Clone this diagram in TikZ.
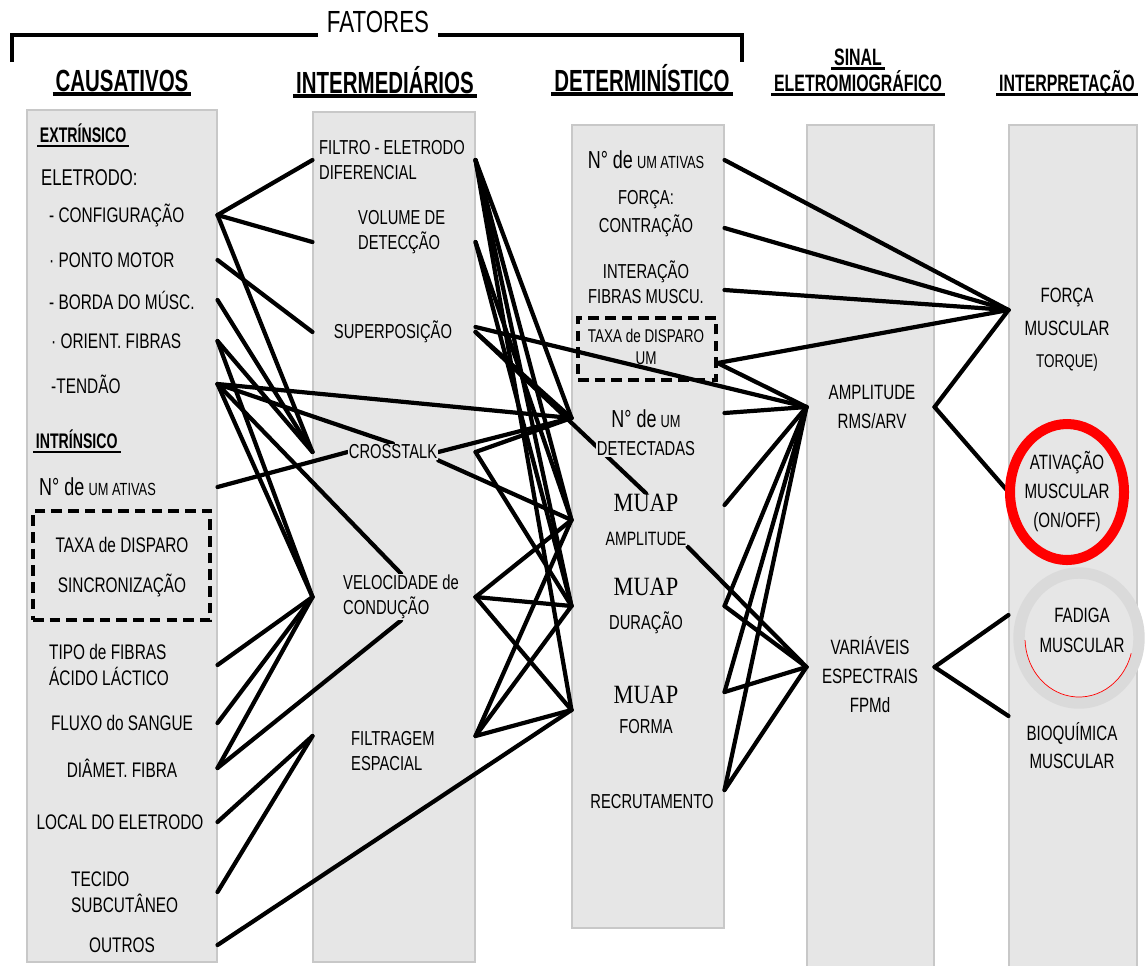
\documentclass[tikz,border=0pt]{standalone}
\usepackage{fontspec}
\setmainfont{Liberation Sans}[FakeStretch=0.73]
\newfontfamily\headfont{Liberation Sans}[FakeStretch=0.67]
\newfontfamily\muapfont{Liberation Serif}[FakeStretch=0.85]
\usetikzlibrary{calc,fit}
\definecolor{boxgray}{HTML}{E6E6E6}
\definecolor{boxedge}{HTML}{C8C8C8}
\definecolor{ringgray}{HTML}{DADADA}
\definecolor{markred}{HTML}{FF0000}
\pgfdeclarelayer{boxes}
\pgfdeclarelayer{links}
\pgfsetlayers{boxes,links,main}
% "N° de" in large type, the rest small
\newcommand{\nde}[1]{{\fontsize{14}{16}\selectfont N° de} {\fontsize{10}{12}\selectfont #1}}
\newcommand{\muap}{{\muapfont\fontsize{15}{17}\selectfont MUAP}}

\begin{document}
\begin{tikzpicture}[x=0.02cm,y=-0.02cm,
  colbox/.style={draw=boxedge,fill=boxgray,line width=0.6pt,inner sep=0pt},
  itemtxt/.style={fill=boxgray,inner sep=0.5pt,align=center,font=\fontsize{12}{15}\selectfont},
  midtxt/.style={itemtxt,font=\fontsize{11.5}{14.5}\selectfont},
  smalltxt/.style={itemtxt,font=\fontsize{11.8}{16}\selectfont},
  headtxt/.style={inner sep=1.5pt,text height=0.72*#1pt,text depth=0pt,
    font=\headfont\bfseries\fontsize{#1}{#1}\selectfont,
    append after command={(\tikzlastnode.south west) edge[line width=#1*0.1pt] (\tikzlastnode.south east)}},
  headtxt/.default=17.4,
  dashbox/.style={draw,line width=1.8pt,dash pattern=on 6pt off 3.5pt,inner sep=0pt},
  link/.style={line width=2.4pt,line cap=round,line join=round}]
\useasboundingbox (0,0) rectangle (1145,965);

% the five column panels
\begin{pgfonlayer}{boxes}
\fill[white] (0,0) rectangle (1145,965);
\node[colbox,fit={(27,110) (217,962)}] (colcaus) {};
\node[colbox,fit={(313,112) (475,962)}] (colinter) {};
\node[colbox,fit={(572,125) (724,928)}] (coldet) {};
\node[colbox,fit={(807,125) (934,968)}] (colsinal) {};
\node[colbox,fit={(1009,125) (1137,968)}] (colinterp) {};
\end{pgfonlayer}

% title bracket
\node[font=\fontsize{17.4}{20}\selectfont,inner xsep=5pt,inner ysep=1pt] (fatores) at (378,22) {FATORES};
\draw[line width=1.8pt] (12,62) |- (fatores.south west);
\draw[line width=1.8pt] (fatores.south east) -| (742,62);

% column headings
\node[headtxt] (hcaus) at (122,80) {CAUSATIVOS};
\node[headtxt] (hinter) at (385,82) {INTERMEDIÁRIOS};
\node[headtxt] (hdet) at (642,80) {DETERMINÍSTICO};
\node[headtxt=13.5] (hsinal) at (858,57) {SINAL};
\node[headtxt=13.5] (helet) at (858,83) {ELETROMIOGRÁFICO};
\node[headtxt=13.5] (hinterp) at (1067,83) {INTERPRETAÇÃO};

% causativos
\node[headtxt=12,anchor=west] (extr) at (37,135) {EXTRÍNSICO};
\node[itemtxt,anchor=west,font=\fontsize{13}{15}\selectfont] (eletr) at (40,178) {ELETRODO:};
\node[itemtxt,anchor=west] (cfg) at (48,215) {- CONFIGURAÇÃO};
\node[itemtxt,anchor=west] (pmot) at (48,260) {· PONTO MOTOR};
\node[itemtxt,anchor=west] (borda) at (48,300) {- BORDA DO MÚSC.};
\node[itemtxt,anchor=west] (orient) at (50,341) {· ORIENT. FIBRAS};
\node[itemtxt,anchor=west] (tendao) at (50,384) {-TENDÃO};
\node[headtxt=12,anchor=west] (intr) at (33,441) {INTRÍNSICO};
\node[itemtxt,anchor=west] (nativ) at (38,487) {\nde{UM ATIVAS}};
\node[itemtxt] (taxa1) at (122,545) {TAXA de DISPARO};
\node[itemtxt] (sincr) at (122,585) {SINCRONIZAÇÃO};
\node[dashbox,fit={(33,511) (210,620)}] (dashcaus) {};
\node[itemtxt,anchor=west,align=left] (tipo) at (48,665) {TIPO de FIBRAS\\ÁCIDO LÁCTICO};
\node[itemtxt] (fluxo) at (122,723) {FLUXO do SANGUE};
\node[itemtxt] (diam) at (122,768) {DIÂMET. FIBRA};
\node[itemtxt] (local) at (120,822) {LOCAL DO ELETRODO};
\node[itemtxt,anchor=west,align=left] (tecido) at (70,892) {TECIDO\\SUBCUTÂNEO};
\node[itemtxt] (outros) at (122,945) {OUTROS};

% intermediarios
\node[midtxt,anchor=west,align=left] (filtro) at (318,160) {FILTRO - ELETRODO\\DIFERENCIAL};
\node[midtxt,anchor=west,align=left] (volume) at (357,232) {VOLUME DE\\DETECÇÃO};
\node[midtxt] (superp) at (393,332) {SUPERPOSIÇÃO};
\node[midtxt] (xtalk) at (393,452) {CROSSTALK};
\node[midtxt,anchor=west,align=left] (veloc) at (342,597) {VELOCIDADE de\\CONDUÇÃO};
\node[midtxt,anchor=west,align=left] (filtrag) at (350,751) {FILTRAGEM\\ESPACIAL};

% deterministico
\node[midtxt] (nativ3) at (646,160) {\nde{UM ATIVAS}};
\node[midtxt,font=\fontsize{11.5}{16}\selectfont] (forca3) at (646,214) {FORÇA:\\CONTRAÇÃO};
\node[midtxt] (inter3) at (646,282) {INTERAÇÃO\\FIBRAS MUSCU.};
\node[midtxt,font=\fontsize{10.5}{12.5}\selectfont,inner sep=0pt,fill=none] (taxa3) at (646,347) {TAXA de DISPARO\\UM};
\node[dashbox,fit={(578,318) (716,380)}] (dashdet) {};
\node[midtxt,font=\fontsize{11.5}{16}\selectfont] (detec3) at (646,433) {\nde{UM}\\DETECTADAS};
\node[midtxt,font=\fontsize{11}{19}\selectfont] (muapa) at (646,520) {\muap\\AMPLITUDE};
\node[midtxt,font=\fontsize{11.5}{19}\selectfont] (muapd) at (646,606) {\muap\\DURAÇÃO};
\node[midtxt,font=\fontsize{11.5}{17}\selectfont] (muapf) at (646,710) {\muap\\FORMA};
\node[midtxt] (recrut) at (652,802) {RECRUTAMENTO};

% sinal eletromiografico
\node[smalltxt] (ampl) at (872,407) {AMPLITUDE\\RMS/ARV};
\node[smalltxt,font=\fontsize{11.8}{16.5}\selectfont] (varesp) at (870,675) {VARIÁVEIS\\ESPECTRAIS\\FPMd};

% interpretacao
\node[smalltxt,font=\fontsize{11.8}{18.5}\selectfont] (forcam) at (1067,330) {FORÇA\\MUSCULAR\\{\fontsize{10.5}{12}\selectfont TORQUE)}};
\node[smalltxt,font=\fontsize{11.8}{16.5}\selectfont] (ativ) at (1067,492) {ATIVAÇÃO\\MUSCULAR\\(ON/OFF)};
\node[smalltxt,font=\fontsize{11.8}{17}\selectfont] (fadiga) at (1082,630) {FADIGA\\MUSCULAR};
\node[smalltxt,font=\fontsize{11.8}{16}\selectfont] (bioq) at (1072,746) {BIOQUÍMICA\\MUSCULAR};

% highlight rings
\draw[markred,line width=5.7pt] (ativ) ellipse [x radius=57, y radius=68];
\draw[ringgray,line width=6.5pt] (1079,638) ellipse [x radius=60, y radius=65];
\draw[markred,line width=0.4pt] (1079,638) ++(15:54 and 59) arc [start angle=15, end angle=178, x radius=54, y radius=59];

% ports that sit off the text centres
\coordinate (volumeL) at ($(volume -| colinter.west)+(0,10)$);
\coordinate (volumeR) at ($(volume -| colinter.east)+(0,10)$);
\coordinate (superpR) at ($(superp -| colinter.east)+(0,-5)$);
\coordinate (filtragL) at ($(filtrag -| colinter.west)+(0,-15)$);
\coordinate (filtragR) at ($(filtrag -| colinter.east)+(0,-15)$);
\coordinate (detecL) at ($(detec3 -| coldet.west)+(0,-15)$);
\coordinate (detecR) at ($(detec3 -| coldet.east)+(0,-20)$);
\coordinate (forca3R) at ($(forca3 -| coldet.east)+(0,14)$);
\coordinate (inter3R) at ($(inter3 -| coldet.east)+(0,8)$);
\coordinate (taxa3R) at ($(taxa3 -| dashdet.east)+(0,16)$);
\coordinate (muapaR) at ($(muapa -| coldet.east)+(0,-15)$);
\coordinate (muapfR) at ($(muapf -| coldet.east)+(0,-18)$);
\coordinate (recrutR) at ($(recrut -| coldet.east)+(0,-12)$);
\coordinate (varespL) at ($(varesp -| colsinal.west)+(0,-8)$);
\coordinate (varespR) at ($(varesp -| colsinal.east)+(0,-8)$);
\coordinate (forcamL) at ($(forcam -| colinterp.west)+(0,-20)$);
\coordinate (fadigaL) at ($(fadiga -| colinterp.west)+(0,-15)$);
\coordinate (bioqL) at ($(bioq -| colinterp.west)+(0,-30)$);

\begin{pgfonlayer}{links}
% causativos -> intermediarios
\draw[link] (cfg -| colcaus.east) -- (filtro -| colinter.west);
\draw[link] (cfg -| colcaus.east) -- (volumeL);
\draw[link] (cfg -| colcaus.east) -- (xtalk -| colinter.west);
\draw[link] (pmot -| colcaus.east) -- (superp -| colinter.west);
\draw[link] (borda -| colcaus.east) -- (xtalk -| colinter.west);
\draw[link] (orient -| colcaus.east) -- (xtalk -| colinter.west);
\draw[link] (orient -| colcaus.east) -- (veloc -| colinter.west);
\draw[link] (tendao -| colcaus.east) -- (detecL);
\draw[link] (tendao -| colcaus.east) -- (xtalk.north);
\draw[link] (tendao -| colcaus.east) -- (veloc.north);
\draw[link] (tendao -| colcaus.east) -- (veloc -| colinter.west);
\draw[link] (nativ -| colcaus.east) -- (xtalk.west);
\draw[link] (tipo -| colcaus.east) -- (veloc -| colinter.west);
\draw[link] (fluxo -| colcaus.east) -- (veloc -| colinter.west);
\draw[link] (diam -| colcaus.east) -- (veloc -| colinter.west);
\draw[link] (diam -| colcaus.east) -- (veloc.south);
\draw[link] (local -| colcaus.east) -- (filtragL);
\draw[link] (tecido -| colcaus.east) -- (filtragL);
\draw[link] (outros -| colcaus.east) -- (muapf -| coldet.west);
% intermediarios -> deterministico
\draw[link] (filtro -| colinter.east) -- (detecL);
\draw[link] (filtro -| colinter.east) -- (muapa -| coldet.west);
\draw[link] (filtro -| colinter.east) -- (muapd -| coldet.west);
\draw[link] (filtro -| colinter.east) -- (muapf -| coldet.west);
\draw[link] (volumeR) -- (muapa -| coldet.west);
\draw[link] (volumeR) -- (muapd -| coldet.west);
\draw[link] (superp -| colinter.east) -- (detecL);
\draw[link] (superp -| colinter.east) -- (muapa.north);
\draw[link] (superpR) -- (ampl -| colsinal.west);
\draw[link] (xtalk.east) -- (detecL);
\draw[link] (xtalk -| colinter.east) -- (detecL);
\draw[link] (xtalk -| colinter.east) -- (muapd -| coldet.west);
\draw[link] (xtalk.south east) -- (muapa -| coldet.west);
\draw[link] (veloc -| colinter.east) -- (muapa -| coldet.west);
\draw[link] (veloc -| colinter.east) -- (muapd -| coldet.west);
\draw[link] (veloc -| colinter.east) -- (muapf -| coldet.west);
\draw[link] (filtragR) -- (muapa -| coldet.west);
\draw[link] (filtragR) -- (muapd -| coldet.west);
\draw[link] (filtragR) -- (muapf -| coldet.west);
% deterministico -> sinal / interpretacao
\draw[link] (nativ3 -| coldet.east) -- (forcamL);
\draw[link] (forca3R) -- (forcamL);
\draw[link] (inter3R) -- (forcamL);
\draw[link] (taxa3R) -- (forcamL);
\draw[link] (taxa3R) -- (ampl -| colsinal.west);
\draw[link] (detecR) -- (ampl -| colsinal.west);
\draw[link] (muapaR) -- (ampl -| colsinal.west);
\draw[link] (muapd -| coldet.east) -- (ampl -| colsinal.west);
\draw[link] (muapfR) -- (ampl -| colsinal.west);
\draw[link] (recrutR) -- (ampl -| colsinal.west);
\draw[link] (muapa.south east) -- (varespL);
\draw[link] (muapd -| coldet.east) -- (varespL);
\draw[link] (muapfR) -- (varespL);
\draw[link] (recrutR) -- (varespL);
% sinal -> interpretacao
\draw[link] (ampl -| colsinal.east) -- (forcamL);
\draw[link] (ampl -| colsinal.east) -- (ativ -| colinterp.west);
\draw[link] (varespR) -- (fadigaL);
\draw[link] (varespR) -- (bioqL);
\end{pgfonlayer}
\end{tikzpicture}
\end{document}
